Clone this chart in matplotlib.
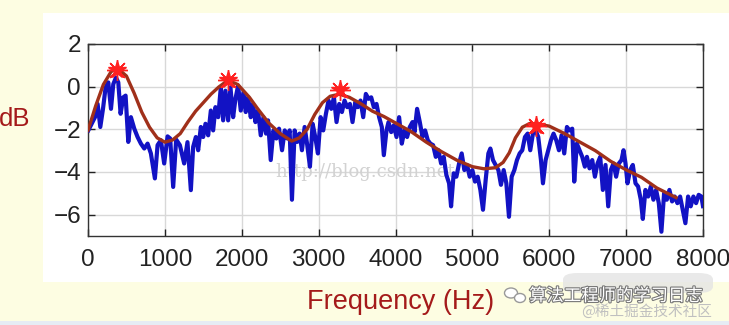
import matplotlib
matplotlib.use("Agg")
import matplotlib.pyplot as plt
from matplotlib.patches import Rectangle, FancyBboxPatch, Ellipse
import matplotlib.patheffects as pe

plt.rcParams['font.family'] = ['Liberation Sans Narrow', 'Liberation Sans', 'DejaVu Sans']

# ---- data ----
spec_hz = [4, 91, 125, 160, 195, 229, 264, 299, 329, 364,
           394, 424, 459, 489, 524, 558, 602, 645, 688, 732,
           775, 818, 870, 905, 948, 991, 1035, 1069, 1108, 1147,
           1195, 1251, 1294, 1338, 1368, 1403, 1433, 1468, 1498, 1528,
           1563, 1598, 1628, 1658, 1693, 1728, 1758, 1788, 1823, 1853,
           1888, 1918, 1953, 1987, 2022, 2052, 2083, 2117, 2147, 2178,
           2212, 2247, 2282, 2316, 2342, 2377, 2412, 2450, 2485, 2524,
           2559, 2593, 2623, 2653, 2688, 2722, 2753, 2783, 2818, 2852,
           2887, 2922, 2956, 2991, 3026, 3060, 3095, 3129, 3164, 3199,
           3233, 3268, 3303, 3337, 3372, 3407, 3441, 3476, 3510, 3545,
           3580, 3614, 3649, 3684, 3718, 3753, 3787, 3822, 3848, 3883,
           3909, 3944, 3978, 4013, 4047, 4082, 4117, 4151, 4186, 4221,
           4247, 4281, 4316, 4351, 4385, 4420, 4454, 4489, 4524, 4558,
           4593, 4627, 4662, 4697, 4723, 4757, 4792, 4827, 4861, 4896,
           4931, 4965, 5000, 5034, 5069, 5104, 5138, 5173, 5208, 5234,
           5268, 5303, 5338, 5372, 5407, 5442, 5476, 5511, 5546, 5580,
           5615, 5649, 5684, 5719, 5753, 5788, 5823, 5857, 5892, 5918,
           5953, 5987, 6022, 6056, 6091, 6126, 6160, 6195, 6230, 6264,
           6299, 6325, 6359, 6394, 6429, 6463, 6490, 6524, 6559, 6594,
           6628, 6663, 6697, 6732, 6767, 6801, 6836, 6870, 6905, 6940,
           6966, 6992, 7018, 7052, 7087, 7122, 7156, 7191, 7217, 7251,
           7286, 7321, 7355, 7390, 7425, 7459, 7494, 7529, 7563, 7598,
           7632, 7667, 7702, 7736, 7771, 7806, 7840, 7875, 7910, 7944,
           7979, 8000]
spec_db = [-2.05, -1.43, -0.81, -1.89, -1.04, -0.03, 0.2, -1.04, 0.12, 0.43,
           0.2, -1.27, -0.5, -0.42, -2.59, -1.43, -1.97, -2.36, -2.67, -2.9,
           -2.67, -3.13, -4.3, -2.74, -2.51, -3.6, -2.33, -2.43, -4.7, -2.48,
           -2.74, -3.6, -2.6, -4.85, -2.82, -2.36, -2.98, -1.89, -2.36, -1.74,
           -2.28, -1.12, -2.05, -0.96, -1.43, -0.03, -1.58, -0.19, -1.58, -0.03,
           -1.43, -0.57, 0.05, -1.12, -0.26, -1.19, -0.5, -1.43, -0.81, -1.66,
           -1.12, -2.28, -1.43, -2.2, -1.58, -3.44, -2.05, -2.43, -1.97, -2.98,
           -2.05, -2.43, -2.05, -5.3, -2.05, -2.59, -2.2, -2.98, -1.89, -2.74,
           -3.75, -1.74, -2.36, -3.13, -1.43, -2.05, -1.27, -0.65, -1.04, -0.5,
           -1.66, -0.81, -1.19, -0.65, -0.96, -0.81, -1.66, -0.73, -0.96, -0.65,
           -1.43, -0.34, -0.57, -0.5, -0.96, -0.81, -1.43, -1.89, -3.21, -2.05,
           -1.66, -2.13, -1.81, -2.36, -1.43, -2.67, -2.05, -2.36, -1.89, -1.66,
           -2.13, -1.04, -1.66, -2.36, -2.05, -2.51, -2.67, -2.74, -3.29, -2.98,
           -3.6, -3.29, -4.14, -4.53, -5.61, -4.06, -4.22, -3.6, -3.13, -3.91,
           -3.67, -4.22, -3.91, -4.45, -4.22, -4.84, -5.77, -4.37, -3.13, -2.9,
           -3.44, -3.67, -3.91, -4.6, -3.91, -4.53, -6.1, -4.22, -3.91, -3.44,
           -3.13, -2.98, -2.36, -2.2, -2.98, -2.2, -2.05, -2.36, -3.44, -4.53,
           -3.44, -2.98, -2.51, -2.2, -2.51, -2.98, -2.28, -3.13, -1.89, -2.05,
           -1.97, -4.45, -2.67, -2.98, -3.29, -3.75, -3.29, -3.83, -3.44, -4.22,
           -3.6, -3.29, -4.84, -3.67, -5.61, -3.91, -3.6, -4.22, -3.6, -3.44,
           -2.98, -3.6, -4.53, -3.91, -3.67, -4.53, -4.68, -5.3, -6.2, -4.84,
           -5.15, -4.68, -5.3, -4.84, -5.46, -6.8, -4.99, -5.3, -4.84, -5.38,
           -5.15, -5.46, -5.15, -5.77, -6.4, -5.15, -5.61, -5.15, -5.46, -5.07,
           -5.15, -5.6]

env_hz = [0, 100, 200, 300, 380, 500, 600, 700, 800, 900,
          1000, 1100, 1200, 1300, 1400, 1500, 1600, 1700, 1820, 1950,
          2100, 2200, 2350, 2500, 2650, 2750, 2850, 2950, 3050, 3150,
          3270, 3400, 3550, 3700, 3850, 4000, 4200, 4400, 4600, 4800,
          5000, 5150, 5300, 5400, 5480, 5560, 5650, 5750, 5850, 6000,
          6200, 6400, 6600, 6800, 7000, 7200, 7400, 7650]
env_db = [-2.05, -0.9, 0.1, 0.7, 0.88, 0.5, -0.3, -1.2, -1.9, -2.4,
          -2.6, -2.5, -2.2, -1.65, -1.15, -0.75, -0.35, -0.02, 0.3, 0.1,
          -0.5, -1.0, -1.7, -2.2, -2.55, -2.4, -2.0, -1.3, -0.75, -0.45,
          -0.35, -0.5, -0.8, -1.15, -1.4, -1.7, -2.1, -2.6, -3.05, -3.45,
          -3.75, -3.85, -3.8, -3.55, -3.1, -2.4, -1.9, -1.72, -1.75, -1.85,
          -2.2, -2.6, -3.0, -3.5, -3.9, -4.25, -4.75, -5.2]

peak_hz = [375, 1820, 3275, 5830]
peak_db = [0.8, 0.3, -0.15, -1.85]

x_ticks = [0, 1000, 2000, 3000, 4000, 5000, 6000, 7000, 8000]
y_ticks = [-6, -4, -2, 0, 2]

W, H = 729, 325
fig = plt.figure(figsize=(W / 100, H / 100), dpi=100)
fig.patch.set_facecolor('#fdfde2')

# white panel and bottom strip
fig.add_artist(Rectangle((43 / W, 1 - 282 / H), 1 - 43 / W, (282 - 13) / H,
                         transform=fig.transFigure, facecolor='white',
                         edgecolor='none', zorder=0))
fig.add_artist(Rectangle((0, 0), 1, 4 / H, transform=fig.transFigure,
                         facecolor='#e6ecf4', edgecolor='none', zorder=0))

ax = fig.add_axes([88 / W, 1 - 236 / H, (703 - 88) / W, (236 - 44) / H])
ax.set_facecolor('white')
ax.set_xlim(0, 8000)
ax.set_ylim(-7, 2)
ax.set_xticks(x_ticks)
ax.set_yticks(y_ticks)
ax.grid(True, color='#d8d8d8', linewidth=1.0)
ax.set_axisbelow(True)
ax.tick_params(direction='in', length=5, width=1, top=True, right=True,
               labelsize=17.5, colors='#222222', pad=9)
ax.tick_params(axis='y', pad=5)
for s in ax.spines.values():
    s.set_color('#333333')
    s.set_linewidth(1.0)

ax.text(3650, -4.0, 'http://blog.csdn.net/', color='#d2d2d2', fontsize=13,
        family='DejaVu Serif', ha='center', va='center', zorder=1)

ax.plot(spec_hz, spec_db, color='#1212c4', linewidth=3.0, zorder=3,
        solid_joinstyle='round')
ax.plot(env_hz, env_db, color='#a0301a', linewidth=2.4, zorder=4)
ax.plot(peak_hz, peak_db, linestyle='none', marker=(8, 2, 0), markersize=15,
        markeredgecolor='#ff2020', markeredgewidth=1.0, zorder=5)
ax.plot(peak_hz, peak_db, linestyle='none', marker='*', markersize=13,
        color='#ff2020', markeredgecolor='#ff2020', zorder=6)

label_color = '#a41a1a'
fig.text(15 / W, 1 - 119 / H, 'dB', color=label_color, fontsize=18.5,
         family=['Liberation Sans', 'DejaVu Sans'], ha='center', va='center')
fig.text(401 / W, 1 - 302 / H, 'Frequency (Hz)', color=label_color, fontsize=19.5,
         family=['Liberation Sans', 'DejaVu Sans'], ha='center', va='center')

# watermark
fig.add_artist(FancyBboxPatch((563 / W, 1 - 293 / H), 150 / W, 20 / H,
                              boxstyle='round,pad=0.0,rounding_size=0.02',
                              transform=fig.transFigure, facecolor='#e4e4e4',
                              edgecolor='none', alpha=0.8, zorder=1))
fig.add_artist(Ellipse((511 / W, 1 - 293 / H), 13 / W, 10 / H, transform=fig.transFigure,
                       facecolor='white', edgecolor='#999999', linewidth=1, zorder=2))
fig.add_artist(Ellipse((520 / W, 1 - 298 / H), 11 / W, 9 / H, transform=fig.transFigure,
                       facecolor='white', edgecolor='#999999', linewidth=1, zorder=2))
fig.text(616 / W, 1 - 296 / H, '算法工程师的学习日志', color='white', fontsize=12.5,
         family=['Noto Sans CJK SC', 'DejaVu Sans'], ha='center', va='center',
         path_effects=[pe.withStroke(linewidth=1.6, foreground='#777777')])
fig.text(647 / W, 1 - 311 / H, '@稀土掘金技术社区', color='#c0c0c0', fontsize=10.5,
         family=['Noto Sans CJK SC', 'DejaVu Sans'], ha='center', va='center')

fig.savefig('out.png', dpi=100, facecolor=fig.get_facecolor())
